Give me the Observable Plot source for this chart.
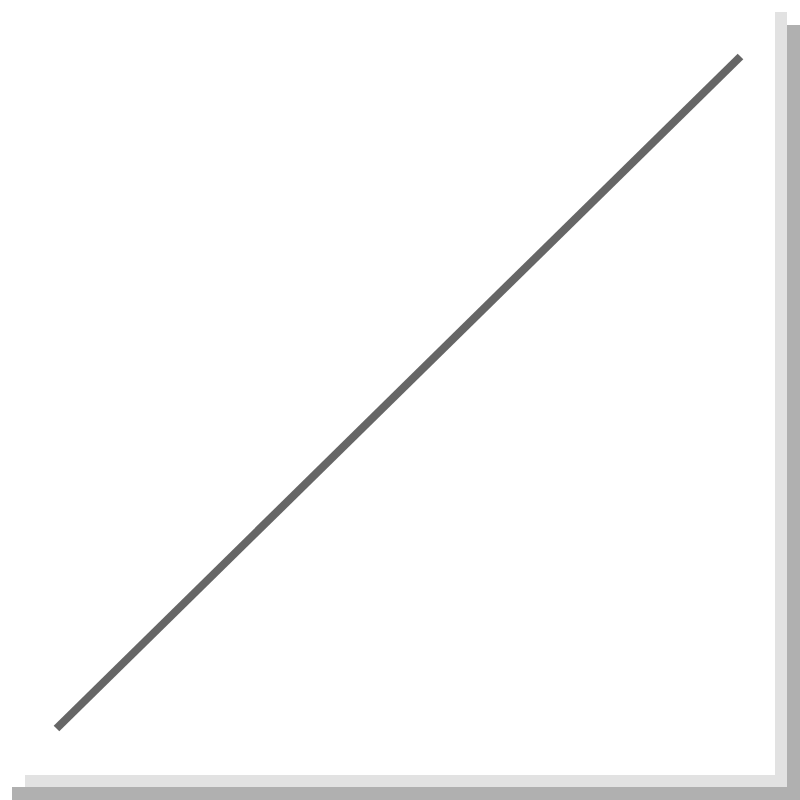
<!DOCTYPE html>
<html>
<head>
<meta charset="utf-8">
<script src="https://cdn.jsdelivr.net/npm/d3@7"></script>
<script src="https://cdn.jsdelivr.net/npm/@observablehq/plot@0.6"></script>
<style>
  html, body { margin: 0; padding: 0; background: #fff; }
  #page { position: relative; width: 800px; height: 800px; background: #fff; overflow: hidden; }
  .band { position: absolute; }
  #lightRight { left: 775px; top: 12px; width: 12px; height: 775px; background: #e2e2e2; }
  #lightBottom { left: 25px; top: 775px; width: 762px; height: 12px; background: #e2e2e2; }
  #darkRight { left: 787px; top: 25px; width: 13px; height: 775px; background: #b0b0b0; }
  #darkBottom { left: 12px; top: 787px; width: 788px; height: 13px; background: #b0b0b0; }
  #chart { position: absolute; left: 0; top: 0; width: 775px; height: 775px; }
</style>
</head>
<body>
<div id="page">
  <div class="band" id="lightRight"></div>
  <div class="band" id="lightBottom"></div>
  <div class="band" id="darkRight"></div>
  <div class="band" id="darkBottom"></div>
  <div id="chart"></div>
</div>
<script>
const xs = [0, 1];
const ys = [0, 1];
const data = xs.map((x, i) => ({x, y: ys[i]}));

const plot = Plot.plot({
  width: 775,
  height: 775,
  marginLeft: 56,
  marginRight: 35,
  marginTop: 56,
  marginBottom: 47,
  x: {domain: [0, 1], axis: null},
  y: {domain: [0, 1], axis: null},
  marks: [
    Plot.line(data, {x: "x", y: "y", stroke: "#666", strokeWidth: 8, strokeLinecap: "butt"})
  ]
});
document.getElementById("chart").appendChild(plot);
</script>
</body>
</html>
